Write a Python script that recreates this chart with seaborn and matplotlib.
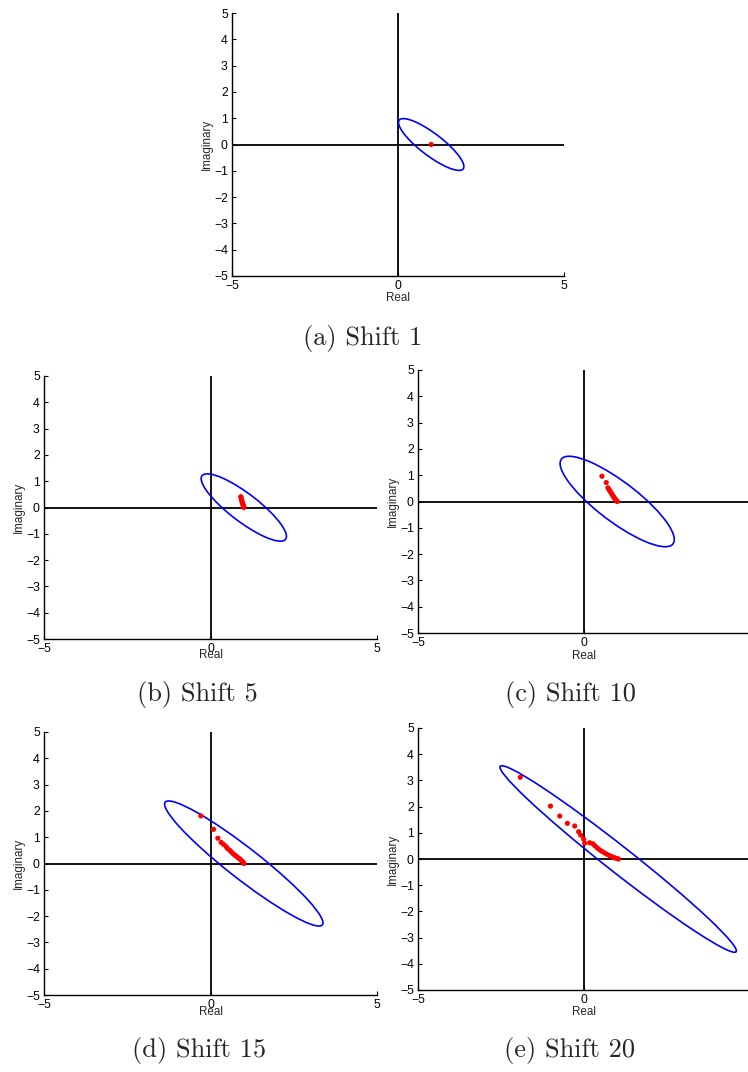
import matplotlib
matplotlib.use("Agg")
import matplotlib.pyplot as plt
from matplotlib.patches import Ellipse
import seaborn as sns
import pandas as pd

# ---- data -----------------------------------------------------------------
captions = ["(a) Shift 1", "(b) Shift 5", "(c) Shift 10", "(d) Shift 15", "(e) Shift 20"]

# bounding ellipse of the spectrum for each shift (centre, semi-axes, tilt in data space)
ell_cx = [1.0, 1.0, 1.0, 1.0, 1.03]
ell_cy = [0.0, 0.0, 0.0, 0.0, 0.0]
ell_major = [1.34, 1.745, 2.334, 3.32, 5.015]
ell_minor = [0.382, 0.484, 0.686, 0.539, 0.447]
ell_angle = [-45, -45, -45, -45, -45]

# computed eigenvalues (real, imaginary)
eig_re_a = [1.0]
eig_im_a = [0.0]

eig_re_b = [0.91, 0.92, 0.93, 0.94, 0.95, 0.96, 0.97, 0.98, 0.99, 1.0, 1.0]
eig_im_b = [0.41, 0.36, 0.31, 0.26, 0.21, 0.17, 0.13, 0.09, 0.06, 0.03, 0.0]

eig_re_c = [0.54, 0.67, 0.72, 0.75, 0.78, 0.81, 0.84, 0.87, 0.90, 0.93, 0.96, 0.98, 1.0]
eig_im_c = [0.96, 0.72, 0.52, 0.46, 0.40, 0.34, 0.28, 0.22, 0.16, 0.11, 0.06, 0.03, 0.0]

eig_re_d = [-0.29, 0.09, 0.22, 0.32, 0.39, 0.47, 0.52, 0.59, 0.64, 0.69, 0.74, 0.79,
            0.84, 0.89, 0.93, 0.96, 0.99, 1.0]
eig_im_d = [1.81, 1.30, 0.96, 0.80, 0.73, 0.64, 0.56, 0.49, 0.42, 0.36, 0.31, 0.26,
            0.21, 0.16, 0.11, 0.07, 0.03, 0.0]

eig_re_e = [-1.92, -1.01, -0.73, -0.50, -0.28, -0.16, -0.10, -0.01, 0.02, 0.17, 0.27,
            0.33, 0.40, 0.47, 0.54, 0.62, 0.69, 0.77, 0.84, 0.92, 0.98, 1.04]
eig_im_e = [3.12, 2.02, 1.64, 1.36, 1.26, 1.04, 0.91, 0.76, 0.60, 0.62, 0.58,
            0.50, 0.42, 0.35, 0.29, 0.23, 0.18, 0.13, 0.09, 0.05, 0.02, 0.0]

eig_re = [eig_re_a, eig_re_b, eig_re_c, eig_re_d, eig_re_e]
eig_im = [eig_im_a, eig_im_b, eig_im_c, eig_im_d, eig_im_e]

x_ticks = [-5, 0, 5]
x_ticklabels_full = ["\u22125", "0", "5"]
x_ticklabels_cut = ["\u22125", "0", ""]   # right-hand panels run past the page edge
y_ticks = [-5, -4, -3, -2, -1, 0, 1, 2, 3, 4, 5]

# ---- layout ---------------------------------------------------------------
W, H = 748, 1072
# axes boxes in pixels: left, top, right, bottom
boxes = [(232, 13, 564, 276),
         (44, 376, 377, 639),
         (418, 370, 750, 633),
         (44, 732, 377, 995),
         (418, 728, 750, 990)]
xlabel_pads = [-0.2, -4.6, 0.3, -3.4, -0.2]
caption_pos = [(363, 338), (197, 695), (570, 695), (199, 1050), (570, 1050)]
right_panel = [False, False, True, False, True]

sns.set_style("ticks")
plt.rcParams["font.family"] = ["Liberation Sans", "DejaVu Sans"]

fig = plt.figure(figsize=(W / 100, H / 100), dpi=100)

for i in range(5):
    l, t, r, b = boxes[i]
    ax = fig.add_axes([l / W, (H - b) / H, (r - l) / W, (b - t) / H])
    ax.set_xlim(-5, 5)
    ax.set_ylim(-5, 5)

    ax.axhline(0, color="black", lw=1.3, zorder=1)
    ax.axvline(0, color="black", lw=1.3, zorder=1)

    ax.add_patch(Ellipse((ell_cx[i], ell_cy[i]), 2 * ell_major[i], 2 * ell_minor[i],
                         angle=ell_angle[i], fill=False, edgecolor="#0000ff",
                         lw=1.2, zorder=2))

    df = pd.DataFrame({"Real": eig_re[i], "Imaginary": eig_im[i]})
    sns.scatterplot(data=df, x="Real", y="Imaginary", ax=ax, color="#ff0000",
                    s=14, edgecolor="none", linewidth=0, zorder=3)

    ax.set_xticks(x_ticks)
    ax.set_xticklabels(x_ticklabels_cut if right_panel[i] else x_ticklabels_full)
    ax.set_yticks(y_ticks)
    ax.tick_params(direction="in", length=3, width=0.8, labelsize=8.8, pad=3,
                   colors="black")
    for side in ("top", "right"):
        ax.spines[side].set_visible(False)
    for side in ("left", "bottom"):
        ax.spines[side].set_linewidth(1.0)
        ax.spines[side].set_color("black")
    ax.set_xlabel("Real", fontsize=8.4, labelpad=xlabel_pads[i])
    ax.set_ylabel("Imaginary", fontsize=8.4, labelpad=0.5)

    cx, cy = caption_pos[i]
    fig.text(cx / W, (H - cy) / H, captions[i], ha="center", va="center",
             fontsize=19, family="cmr10")

fig.savefig("out.png", dpi=100)
